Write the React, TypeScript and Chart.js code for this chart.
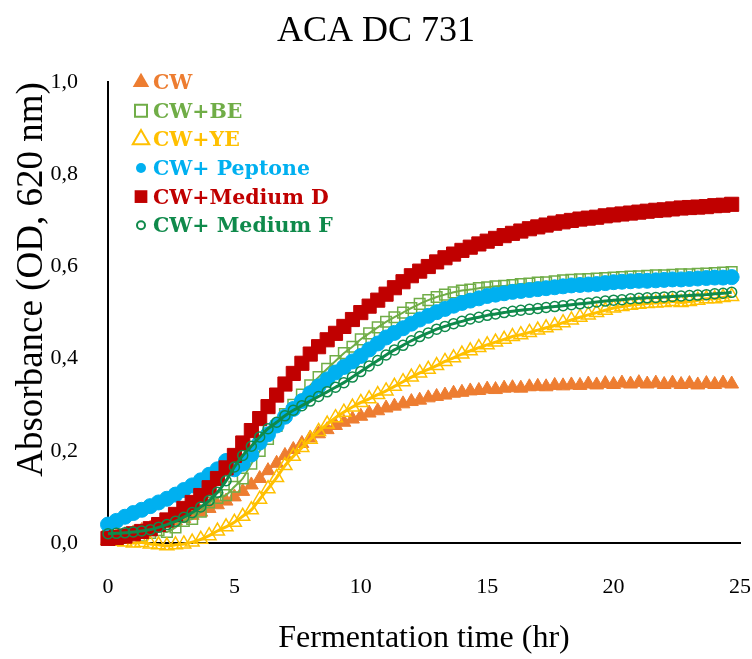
import { useEffect, useRef } from "react";
import { Chart, registerables } from "chart.js";

Chart.register(...registerables);

// Sampling times (every 20 min), hours
const timeHr = [
  0, 0.33, 0.67, 1, 1.33, 1.67, 2, 2.33, 2.67, 3,
  3.33, 3.67, 4, 4.33, 4.67, 5, 5.33, 5.67, 6, 6.33,
  6.67, 7, 7.33, 7.67, 8, 8.33, 8.67, 9, 9.33, 9.67,
  10, 10.33, 10.67, 11, 11.33, 11.67, 12, 12.33, 12.67, 13,
  13.33, 13.67, 14, 14.33, 14.67, 15, 15.33, 15.67, 16, 16.33,
  16.67, 17, 17.33, 17.67, 18, 18.33, 18.67, 19, 19.33, 19.67,
  20, 20.33, 20.67, 21, 21.33, 21.67, 22, 22.33, 22.67, 23,
  23.33, 23.67, 24, 24.33, 24.67,
];

// Absorbance (OD 620 nm) per medium
const odCW = [
  0.010, 0.014, 0.018, 0.022, 0.027, 0.032, 0.038, 0.043, 0.048, 0.053,
  0.060, 0.067, 0.075, 0.083, 0.091, 0.100, 0.112, 0.126, 0.140, 0.157,
  0.173, 0.190, 0.203, 0.216, 0.228, 0.237, 0.246, 0.255, 0.262, 0.269,
  0.275, 0.282, 0.287, 0.293, 0.297, 0.302, 0.307, 0.310, 0.315, 0.318,
  0.321, 0.325, 0.327, 0.330, 0.331, 0.334, 0.333, 0.336, 0.337, 0.336,
  0.339, 0.340, 0.339, 0.342, 0.341, 0.343, 0.342, 0.345, 0.343, 0.346,
  0.344, 0.347, 0.345, 0.348, 0.345, 0.347, 0.344, 0.347, 0.344, 0.346,
  0.343, 0.346, 0.344, 0.347, 0.345,
];

const odBE = [
  0.015, 0.012, 0.018, 0.020, 0.016, 0.022, 0.028, 0.024, 0.034, 0.048,
  0.052, 0.068, 0.088, 0.098, 0.104, 0.122, 0.140, 0.172, 0.200, 0.226,
  0.254, 0.280, 0.300, 0.322, 0.342, 0.360, 0.378, 0.395, 0.412, 0.426,
  0.442, 0.455, 0.468, 0.480, 0.490, 0.500, 0.510, 0.519, 0.527, 0.534,
  0.539, 0.544, 0.548, 0.550, 0.553, 0.555, 0.557, 0.558, 0.560, 0.562,
  0.563, 0.565, 0.566, 0.568, 0.570, 0.571, 0.572, 0.573, 0.574, 0.575,
  0.576, 0.577, 0.578, 0.579, 0.580, 0.581, 0.581, 0.582, 0.583, 0.583,
  0.584, 0.585, 0.586, 0.587, 0.588,
];

const odYE = [
  0.006, 0.004, 0.002, 0.000, 0.001, -0.002, -0.004, -0.006, -0.004, -0.002,
  0.002, 0.008, 0.016, 0.026, 0.035, 0.045, 0.058, 0.072, 0.095, 0.118,
  0.142, 0.168, 0.188, 0.207, 0.225, 0.242, 0.258, 0.272, 0.284, 0.295,
  0.305, 0.313, 0.322, 0.330, 0.340, 0.350, 0.360, 0.369, 0.377, 0.385,
  0.394, 0.402, 0.410, 0.417, 0.424, 0.430, 0.436, 0.442, 0.448, 0.452,
  0.457, 0.462, 0.467, 0.472, 0.478, 0.484, 0.490, 0.495, 0.500, 0.505,
  0.510, 0.513, 0.516, 0.518, 0.520, 0.521, 0.522, 0.524, 0.522, 0.524,
  0.527, 0.530, 0.530, 0.533, 0.535,
];

const odPeptone = [
  0.040, 0.048, 0.057, 0.065, 0.072, 0.080, 0.088, 0.096, 0.105, 0.115,
  0.125, 0.136, 0.148, 0.160, 0.178, 0.160, 0.172, 0.192, 0.218, 0.236,
  0.255, 0.274, 0.291, 0.308, 0.325, 0.340, 0.355, 0.370, 0.382, 0.394,
  0.406, 0.420, 0.433, 0.446, 0.456, 0.466, 0.476, 0.485, 0.493, 0.501,
  0.508, 0.515, 0.521, 0.526, 0.531, 0.536, 0.539, 0.542, 0.545, 0.547,
  0.549, 0.551, 0.553, 0.555, 0.557, 0.559, 0.560, 0.561, 0.562, 0.564,
  0.566, 0.567, 0.568, 0.569, 0.569, 0.570, 0.571, 0.572, 0.572, 0.573,
  0.574, 0.575, 0.576, 0.576, 0.577,
];

const odMediumD = [
  0.010, 0.012, 0.015, 0.020, 0.025, 0.031, 0.040, 0.050, 0.062, 0.075,
  0.088, 0.103, 0.120, 0.140, 0.163, 0.190, 0.217, 0.244, 0.270, 0.296,
  0.321, 0.345, 0.368, 0.390, 0.410, 0.426, 0.441, 0.455, 0.470, 0.485,
  0.500, 0.514, 0.527, 0.540, 0.554, 0.567, 0.580, 0.590, 0.600, 0.610,
  0.619, 0.627, 0.635, 0.642, 0.649, 0.655, 0.661, 0.667, 0.672, 0.677,
  0.682, 0.686, 0.690, 0.694, 0.697, 0.700, 0.703, 0.705, 0.707, 0.710,
  0.712, 0.714, 0.716, 0.718, 0.720, 0.722, 0.723, 0.725, 0.727, 0.728,
  0.729, 0.730, 0.732, 0.733, 0.735,
];

const odMediumF = [
  0.020, 0.021, 0.022, 0.024, 0.026, 0.029, 0.034, 0.040, 0.047, 0.056,
  0.066, 0.078, 0.092, 0.110, 0.135, 0.165, 0.190, 0.210, 0.230, 0.248,
  0.262, 0.276, 0.288, 0.298, 0.308, 0.318, 0.328, 0.338, 0.348, 0.360,
  0.372, 0.384, 0.396, 0.408, 0.419, 0.429, 0.439, 0.448, 0.456, 0.464,
  0.470, 0.476, 0.481, 0.486, 0.490, 0.494, 0.497, 0.500, 0.503, 0.505,
  0.507, 0.509, 0.511, 0.513, 0.515, 0.517, 0.519, 0.521, 0.523, 0.525,
  0.527, 0.528, 0.530, 0.531, 0.532, 0.533, 0.534, 0.535, 0.536, 0.537,
  0.538, 0.539, 0.541, 0.542, 0.544,
];

const seriesNames = ["CW", "CW+BE", "CW+YE", "CW+ Peptone", "CW+Medium D", "CW+ Medium F"];
const seriesValues = [odCW, odBE, odYE, odPeptone, odMediumD, odMediumF];

const xTicks = [0, 5, 10, 15, 20, 25];
const yTicks = [0, 0.2, 0.4, 0.6, 0.8, 1.0];

type MarkerStyle = {
  color: string;
  shape: "triangle" | "rect" | "circle";
  filled: boolean;
  radius: number;
  legendRadius: number;
  lineWidth: number;
};

const markerStyles: MarkerStyle[] = [
  { color: "#ED7D31", shape: "triangle", filled: true, radius: 8, legendRadius: 9.5, lineWidth: 2 },
  { color: "#70AD47", shape: "rect", filled: false, radius: 7.5, legendRadius: 8.5, lineWidth: 2 },
  { color: "#FFC000", shape: "triangle", filled: false, radius: 8, legendRadius: 9.5, lineWidth: 3 },
  { color: "#00B0F0", shape: "circle", filled: true, radius: 7.5, legendRadius: 5, lineWidth: 2 },
  { color: "#C00000", shape: "rect", filled: true, radius: 10, legendRadius: 9, lineWidth: 2 },
  { color: "#0F8A4B", shape: "circle", filled: false, radius: 5, legendRadius: 4, lineWidth: 3 },
];

const SERIF = "'Liberation Serif', 'Times New Roman', serif";

function drawLegendMarker(ctx: CanvasRenderingContext2D, s: MarkerStyle, x: number, y: number) {
  const r = s.legendRadius;
  ctx.beginPath();
  if (s.shape === "triangle") {
    const h = r * 1.5;
    const half = (r * Math.sqrt(3)) / 2;
    ctx.moveTo(x, y - r);
    ctx.lineTo(x + half, y - r + h);
    ctx.lineTo(x - half, y - r + h);
    ctx.closePath();
  } else if (s.shape === "rect") {
    const half = r * Math.SQRT1_2;
    ctx.rect(x - half, y - half, half * 2, half * 2);
  } else {
    ctx.arc(x, y, r, 0, Math.PI * 2);
  }
  if (s.filled) {
    ctx.fillStyle = s.color;
    ctx.fill();
  } else {
    ctx.strokeStyle = s.color;
    ctx.lineWidth = 2;
    ctx.stroke();
  }
}

// Legend stacked in the upper-left corner of the plot area
const insideLegend = {
  id: "insideLegend",
  afterDraw(chart: Chart) {
    const { ctx, chartArea } = chart;
    const textX = chartArea.left + 45;
    const markerX = chartArea.left + 33;
    const firstBaseline = chartArea.top + 7;
    const step = 28.6;
    ctx.save();
    ctx.font = "bold 20.5px 'DejaVu Serif'";
    ctx.textBaseline = "alphabetic";
    ctx.textAlign = "left";
    seriesNames.forEach((name, i) => {
      const s = markerStyles[i];
      const base = firstBaseline + i * step;
      drawLegendMarker(ctx, s, markerX, base - 7);
      ctx.fillStyle = s.color;
      ctx.fillText(name, textX, base);
    });
    ctx.restore();
  },
};

function App() {
  const canvasRef = useRef<HTMLCanvasElement | null>(null);

  useEffect(() => {
    const canvas = canvasRef.current;
    if (!canvas) return;

    const datasets = seriesNames.map((name, i) => {
      const s = markerStyles[i];
      return {
        label: name,
        data: timeHr.map((t, k) => ({ x: t, y: seriesValues[i][k] })),
        borderColor: s.color,
        backgroundColor: s.color,
        borderWidth: s.lineWidth,
        tension: 0.3,
        pointStyle: s.shape,
        pointRadius: s.radius,
        pointBorderWidth: s.filled ? 1 : 1.5,
        pointBorderColor: s.color,
        pointBackgroundColor: s.filled ? s.color : "rgba(0,0,0,0)",
        clip: false as const,
        order: seriesNames.length - 1 - i,
      };
    });

    const chart = new Chart(canvas, {
      type: "line",
      data: { datasets },
      plugins: [insideLegend],
      options: {
        responsive: false,
        animation: false,
        devicePixelRatio: 1,
        layout: { padding: 0 },
        plugins: {
          legend: { display: false },
          tooltip: { enabled: false },
          title: {
            display: true,
            text: "ACA DC 731",
            color: "#000",
            font: { family: SERIF, size: 36, weight: "normal" },
            padding: { top: 10, bottom: 29 },
          },
        },
        scales: {
          x: {
            type: "linear",
            min: 0,
            max: 25,
            afterBuildTicks: (scale: any) => {
              scale.ticks = xTicks.map((v) => ({ value: v }));
            },
            afterFit: (scale: any) => {
              scale.height = 116;
              scale.paddingLeft = 0;
              scale.paddingRight = 12;
            },
            grid: { display: false, drawTicks: false },
            border: { display: true, color: "#000", width: 2 },
            ticks: {
              color: "#000",
              padding: 31,
              font: { family: SERIF, size: 22 },
              maxRotation: 0,
            },
            title: {
              display: true,
              text: "Fermentation time (hr)",
              color: "#000",
              font: { family: SERIF, size: 32 },
              padding: { top: 0, bottom: 1 },
            },
          },
          y: {
            type: "linear",
            min: 0,
            max: 1,
            afterBuildTicks: (scale: any) => {
              scale.ticks = yTicks.map((v) => ({ value: v }));
            },
            afterFit: (scale: any) => {
              scale.width = 108;
            },
            grid: { display: false, drawTicks: false },
            border: { display: true, color: "#000", width: 2 },
            ticks: {
              color: "#000",
              padding: 30,
              font: { family: SERIF, size: 22 },
              callback: (v: any) => Number(v).toFixed(1).replace(".", ","),
            },
            title: {
              display: true,
              text: "Absorbance (OD, 620 nm)",
              color: "#000",
              align: "end",
              font: { family: SERIF, size: 37 },
              padding: { top: 10, bottom: 0 },
            },
          },
        },
      },
    });

    return () => chart.destroy();
  }, []);

  return (
    <div
      style={{
        position: "fixed",
        left: 0,
        top: 0,
        width: 752,
        height: 659,
        background: "#fff",
      }}
    >
      <canvas ref={canvasRef} width={752} height={659} style={{ display: "block" }} />
    </div>
  );
}

export default App;
